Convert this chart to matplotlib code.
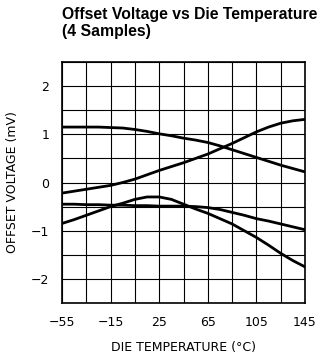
import numpy as np
import matplotlib
matplotlib.use('Agg')
import matplotlib.pyplot as plt

TEMPS = [-55, -45, -35, -25, -15, -5, 5, 15, 25, 35, 45,
         55, 65, 75, 85, 95, 105, 115, 125, 135, 145]

# offset voltage (mV) for the 4 samples
SAMPLE_A = [1.15, 1.15, 1.15, 1.15, 1.14, 1.13, 1.10, 1.06, 1.01, 0.97, 0.92,
            0.88, 0.83, 0.76, 0.68, 0.60, 0.52, 0.44, 0.36, 0.29, 0.22]
SAMPLE_B = [-0.22, -0.18, -0.14, -0.10, -0.06, 0.00, 0.07, 0.16, 0.25, 0.33, 0.41,
            0.50, 0.59, 0.70, 0.81, 0.93, 1.05, 1.15, 1.23, 1.28, 1.31]
SAMPLE_C = [-0.45, -0.45, -0.46, -0.46, -0.47, -0.47, -0.48, -0.48, -0.49, -0.49, -0.49,
            -0.50, -0.52, -0.56, -0.62, -0.68, -0.75, -0.80, -0.86, -0.92, -0.98]
SAMPLE_D = [-0.85, -0.77, -0.68, -0.59, -0.50, -0.43, -0.35, -0.30, -0.30, -0.35, -0.45,
            -0.55, -0.64, -0.75, -0.86, -1.00, -1.14, -1.30, -1.47, -1.62, -1.75]

X_TICKS = [-55, -15, 25, 65, 105, 145]
Y_TICKS = [-2, -1, 0, 1, 2]


def main():
    fig = plt.figure(figsize=(3.24, 3.58), dpi=100)
    ax = fig.add_axes([62 / 324, 1 - 303 / 358, 243 / 324, 241 / 358])

    for s in (SAMPLE_A, SAMPLE_B, SAMPLE_C, SAMPLE_D):
        ax.plot(TEMPS, s, color='black', lw=2.0, solid_joinstyle='round')

    ax.set_xlim(-55, 145)
    ax.set_ylim(-2.5, 2.5)

    # square grid, 20 degC by 0.5 mV
    ax.set_xticks(np.arange(-55, 146, 20), minor=True)
    ax.set_yticks(np.arange(-2.5, 2.51, 0.5), minor=True)
    ax.set_xticks(X_TICKS)
    ax.set_xticklabels([str(t).replace('-', '\u2212') for t in X_TICKS])
    ax.set_yticks(Y_TICKS)
    ax.set_yticklabels([str(t).replace('-', '\u2212') for t in Y_TICKS])
    ax.grid(which='both', color='black', lw=0.8)
    ax.set_axisbelow(True)
    ax.tick_params(which='both', length=0, labelsize=9, pad=9)
    for sp in ax.spines.values():
        sp.set_linewidth(1.2)

    ax.set_xlabel('DIE TEMPERATURE (\u00b0C)', fontsize=9, labelpad=9)
    ax.set_ylabel('OFFSET VOLTAGE (mV)', fontsize=9, labelpad=9)

    fig.text(62 / 324, 1 - 7 / 358, 'Offset Voltage vs Die Temperature\n(4 Samples)',
             fontsize=11.3, fontweight='bold', family='Liberation Sans',
             ha='left', va='top', linespacing=1.2)

    fig.savefig('out.png', dpi=100)


if __name__ == '__main__':
    main()
